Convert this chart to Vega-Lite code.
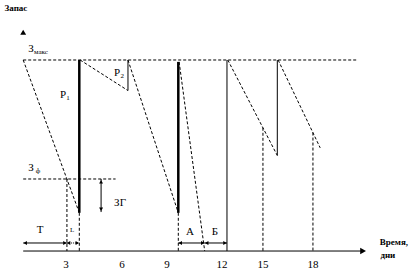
{
  "$schema": "https://vega.github.io/schema/vega-lite/v6.json",
  "width": 414,
  "height": 277,
  "padding": 0,
  "autosize": {"type": "none"},
  "background": "white",
  "config": {"view": {"stroke": null}},
  "datasets": {
    "dashed": [
      {"x": 0.4, "y": 100, "x2": 3.8, "y2": 20},
      {"x": 3.85, "y": 100, "x2": 6.75, "y2": 84},
      {"x": 6.75, "y": 100, "x2": 9.8, "y2": 20},
      {"x": 9.85, "y": 99, "x2": 11.4, "y2": 0},
      {"x": 12.8, "y": 100, "x2": 15.8, "y2": 50},
      {"x": 15.85, "y": 100, "x2": 18.4, "y2": 54},
      {"x": 0.4, "y": 100, "x2": 20.6, "y2": 100},
      {"x": 0.4, "y": 37.7, "x2": 6, "y2": 37.7},
      {"x": 3.05, "y": 37.7, "x2": 3.05, "y2": 0},
      {"x": 3.8, "y": 20, "x2": 3.8, "y2": 0},
      {"x": 9.8, "y": 20, "x2": 9.8, "y2": 0},
      {"x": 14.93, "y": 64.5, "x2": 14.93, "y2": 0},
      {"x": 17.96, "y": 62, "x2": 17.96, "y2": 0}
    ],
    "thick": [
      {"x": 3.8, "y": 20, "x2": 3.8, "y2": 100},
      {"x": 9.8, "y": 20, "x2": 9.8, "y2": 99}
    ],
    "thin": [
      {"x": 6.75, "y": 84, "x2": 6.75, "y2": 100},
      {"x": 12.75, "y": 0, "x2": 12.75, "y2": 100},
      {"x": 15.8, "y": 50, "x2": 15.8, "y2": 100},
      {"x": 0.4, "y": 0, "x2": 21, "y2": 0},
      {"x": 0.4, "y": 4.2, "x2": 3.05, "y2": 4.2},
      {"x": 9.8, "y": 4.2, "x2": 11.4, "y2": 4.2},
      {"x": 11.4, "y": 4.2, "x2": 12.75, "y2": 4.2},
      {"x": 5.12, "y": 37.7, "x2": 5.12, "y2": 20.4}
    ],
    "dotted": [
      {"x": 3.05, "y": 4.2, "x2": 3.8, "y2": 4.2}
    ],
    "headLeft": [
      {"x": 0.52, "y": 4.2},
      {"x": 3.15, "y": 4.2},
      {"x": 9.92, "y": 4.2},
      {"x": 11.52, "y": 4.2}
    ],
    "headRight": [
      {"x": 2.93, "y": 4.2},
      {"x": 3.68, "y": 4.2},
      {"x": 11.28, "y": 4.2},
      {"x": 12.63, "y": 4.2}
    ],
    "headUp": [{"x": 5.12, "y": 36.2}],
    "headDown": [{"x": 5.12, "y": 21.9}],
    "bigArrowRight": [{"x": 21.0, "y": 0}],
    "bigArrowUp": [{"x": 0.4, "y": 114.5}],
    "labels": [
      {"x": 0.87, "y": 105.8, "t": "З"},
      {"x": 0.87, "y": 43.5, "t": "З"},
      {"x": 2.81, "y": 81.7, "t": "P"},
      {"x": 6.09, "y": 93.2, "t": "P"},
      {"x": 1.42, "y": 11, "t": "T"},
      {"x": 10.51, "y": 9.9, "t": "A"},
      {"x": 12.02, "y": 9.9, "t": "Б"},
      {"x": 6.27, "y": 25.1, "t": "ЗГ"},
      {"x": 3.0, "y": -7.3, "t": "3"},
      {"x": 6.39, "y": -7.3, "t": "6"},
      {"x": 9.12, "y": -7.3, "t": "9"},
      {"x": 12.45, "y": -7.3, "t": "12"},
      {"x": 14.93, "y": -7.3, "t": "15"},
      {"x": 17.96, "y": -7.3, "t": "18"}
    ],
    "subs": [
      {"x": 1.48, "y": 104.2, "t": "макс"},
      {"x": 1.3, "y": 41.9, "t": "ф"},
      {"x": 3.12, "y": 80.1, "t": "1"},
      {"x": 6.4, "y": 91.6, "t": "2"},
      {"x": 3.36, "y": 11, "t": "L"}
    ],
    "titles": [
      {"x": -0.04, "y": 127.2, "t": "Запас"},
      {"x": 22.87, "y": 4.7, "t": "Время,"},
      {"x": 22.5, "y": -2.1, "t": "дни"}
    ]
  },
  "layer": [
    {
      "data": {"name": "dashed"},
      "mark": {"type": "rule", "strokeDash": [3, 2], "strokeWidth": 1, "color": "black"},
      "encoding": {
        "x": {"field": "x", "type": "quantitative", "scale": {"domain": [-1.006, 24.085], "nice": false, "zero": false}, "axis": null},
        "y": {"field": "y", "type": "quantitative", "scale": {"domain": [-13.6, 131.4], "nice": false, "zero": false}, "axis": null},
        "x2": {"field": "x2"},
        "y2": {"field": "y2"}
      }
    },
    {
      "data": {"name": "thick"},
      "mark": {"type": "rule", "strokeWidth": 2.5, "color": "black"},
      "encoding": {
        "x": {"field": "x", "type": "quantitative", "scale": {"domain": [-1.006, 24.085], "nice": false, "zero": false}, "axis": null},
        "y": {"field": "y", "type": "quantitative", "scale": {"domain": [-13.6, 131.4], "nice": false, "zero": false}, "axis": null},
        "x2": {"field": "x2"},
        "y2": {"field": "y2"}
      }
    },
    {
      "data": {"name": "thin"},
      "mark": {"type": "rule", "strokeWidth": 1, "color": "black"},
      "encoding": {
        "x": {"field": "x", "type": "quantitative", "scale": {"domain": [-1.006, 24.085], "nice": false, "zero": false}, "axis": null},
        "y": {"field": "y", "type": "quantitative", "scale": {"domain": [-13.6, 131.4], "nice": false, "zero": false}, "axis": null},
        "x2": {"field": "x2"},
        "y2": {"field": "y2"}
      }
    },
    {
      "data": {"name": "dotted"},
      "mark": {"type": "rule", "strokeDash": [1, 1], "strokeWidth": 1, "color": "black"},
      "encoding": {
        "x": {"field": "x", "type": "quantitative", "scale": {"domain": [-1.006, 24.085], "nice": false, "zero": false}, "axis": null},
        "y": {"field": "y", "type": "quantitative", "scale": {"domain": [-13.6, 131.4], "nice": false, "zero": false}, "axis": null},
        "x2": {"field": "x2"},
        "y2": {"field": "y2"}
      }
    },
    {
      "data": {"name": "headLeft"},
      "mark": {"type": "point", "shape": "triangle-left", "filled": true, "size": 16, "color": "black", "opacity": 1},
      "encoding": {
        "x": {"field": "x", "type": "quantitative", "scale": {"domain": [-1.006, 24.085], "nice": false, "zero": false}, "axis": null},
        "y": {"field": "y", "type": "quantitative", "scale": {"domain": [-13.6, 131.4], "nice": false, "zero": false}, "axis": null}
      }
    },
    {
      "data": {"name": "headRight"},
      "mark": {"type": "point", "shape": "triangle-right", "filled": true, "size": 16, "color": "black", "opacity": 1},
      "encoding": {
        "x": {"field": "x", "type": "quantitative", "scale": {"domain": [-1.006, 24.085], "nice": false, "zero": false}, "axis": null},
        "y": {"field": "y", "type": "quantitative", "scale": {"domain": [-13.6, 131.4], "nice": false, "zero": false}, "axis": null}
      }
    },
    {
      "data": {"name": "headUp"},
      "mark": {"type": "point", "shape": "triangle-up", "filled": true, "size": 16, "color": "black", "opacity": 1},
      "encoding": {
        "x": {"field": "x", "type": "quantitative", "scale": {"domain": [-1.006, 24.085], "nice": false, "zero": false}, "axis": null},
        "y": {"field": "y", "type": "quantitative", "scale": {"domain": [-13.6, 131.4], "nice": false, "zero": false}, "axis": null}
      }
    },
    {
      "data": {"name": "headDown"},
      "mark": {"type": "point", "shape": "triangle-down", "filled": true, "size": 16, "color": "black", "opacity": 1},
      "encoding": {
        "x": {"field": "x", "type": "quantitative", "scale": {"domain": [-1.006, 24.085], "nice": false, "zero": false}, "axis": null},
        "y": {"field": "y", "type": "quantitative", "scale": {"domain": [-13.6, 131.4], "nice": false, "zero": false}, "axis": null}
      }
    },
    {
      "data": {"name": "bigArrowRight"},
      "mark": {"type": "point", "shape": "triangle-right", "filled": true, "size": 45, "color": "black", "opacity": 1},
      "encoding": {
        "x": {"field": "x", "type": "quantitative", "scale": {"domain": [-1.006, 24.085], "nice": false, "zero": false}, "axis": null},
        "y": {"field": "y", "type": "quantitative", "scale": {"domain": [-13.6, 131.4], "nice": false, "zero": false}, "axis": null}
      }
    },
    {
      "data": {"name": "bigArrowUp"},
      "mark": {"type": "point", "shape": "triangle-up", "filled": true, "size": 35, "color": "black", "opacity": 1},
      "encoding": {
        "x": {"field": "x", "type": "quantitative", "scale": {"domain": [-1.006, 24.085], "nice": false, "zero": false}, "axis": null},
        "y": {"field": "y", "type": "quantitative", "scale": {"domain": [-13.6, 131.4], "nice": false, "zero": false}, "axis": null}
      }
    },
    {
      "data": {"name": "labels"},
      "mark": {"type": "text", "font": "Liberation Serif", "fontSize": 11, "color": "black", "align": "center", "baseline": "middle"},
      "encoding": {
        "x": {"field": "x", "type": "quantitative", "scale": {"domain": [-1.006, 24.085], "nice": false, "zero": false}, "axis": null},
        "y": {"field": "y", "type": "quantitative", "scale": {"domain": [-13.6, 131.4], "nice": false, "zero": false}, "axis": null},
        "text": {"field": "t"}
      }
    },
    {
      "data": {"name": "subs"},
      "mark": {"type": "text", "font": "Liberation Serif", "fontSize": 7, "color": "black", "align": "center", "baseline": "middle"},
      "encoding": {
        "x": {"field": "x", "type": "quantitative", "scale": {"domain": [-1.006, 24.085], "nice": false, "zero": false}, "axis": null},
        "y": {"field": "y", "type": "quantitative", "scale": {"domain": [-13.6, 131.4], "nice": false, "zero": false}, "axis": null},
        "text": {"field": "t"}
      }
    },
    {
      "data": {"name": "titles"},
      "mark": {"type": "text", "font": "Liberation Serif", "fontSize": 9, "fontWeight": "bold", "color": "black", "align": "center", "baseline": "middle"},
      "encoding": {
        "x": {"field": "x", "type": "quantitative", "scale": {"domain": [-1.006, 24.085], "nice": false, "zero": false}, "axis": null},
        "y": {"field": "y", "type": "quantitative", "scale": {"domain": [-13.6, 131.4], "nice": false, "zero": false}, "axis": null},
        "text": {"field": "t"}
      }
    }
  ]
}
